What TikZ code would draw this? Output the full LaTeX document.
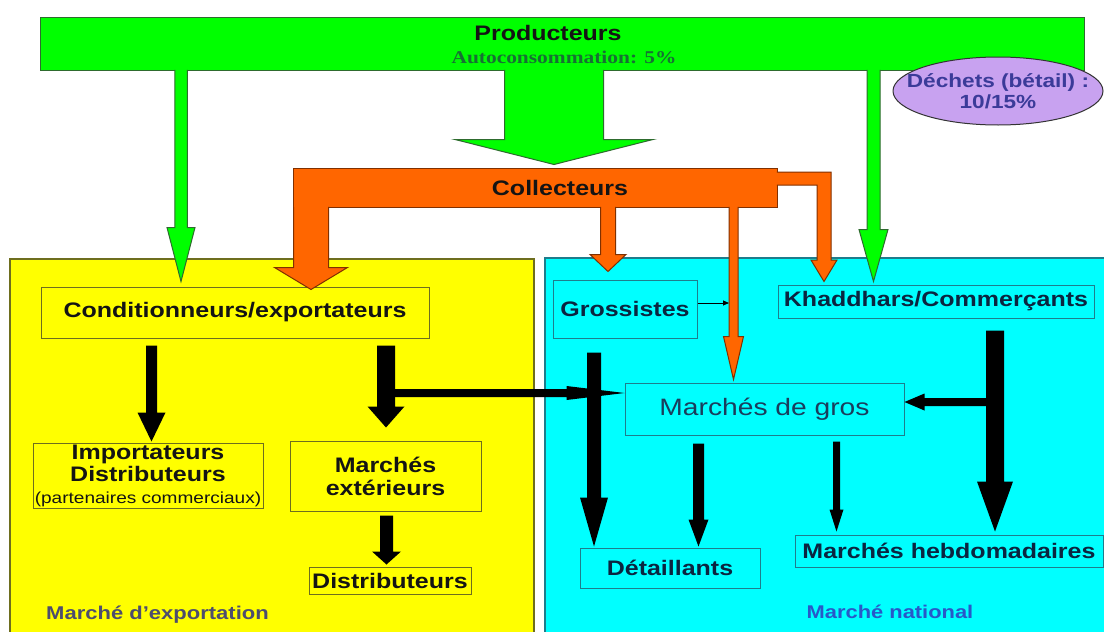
\documentclass[tikz,border=0pt]{standalone}
\usepackage{fontspec}
\usepackage{graphicx}
\setmainfont{Liberation Sans}
\newfontfamily\serifbold{Liberation Serif}[UprightFont={* Bold}]
\usetikzlibrary{shapes.geometric,calc,arrows.meta}

\definecolor{greenfill}{HTML}{00FF00}
\definecolor{greenedge}{HTML}{2E6B2E}
\definecolor{orangefill}{HTML}{FF6600}
\definecolor{orangeedge}{HTML}{803000}
\definecolor{yfill}{HTML}{FFFF00}
\definecolor{yedge}{HTML}{6E6E1E}
\definecolor{cfill}{HTML}{00FFFF}
\definecolor{cedge}{HTML}{1E7D8C}
\definecolor{lavender}{HTML}{C8A2F0}
\definecolor{dechcol}{HTML}{3B3B99}
\definecolor{autocol}{HTML}{177034}
\definecolor{ytext}{HTML}{141414}
\definecolor{ctext}{HTML}{0B2540}
\definecolor{grostext}{HTML}{1A3D5C}
\definecolor{expcol}{HTML}{4D4D6E}
\definecolor{natcol}{HTML}{2858C8}

% horizontally widened text
\newcommand\wide[1]{\scalebox{1.19}[1]{#1}}

% downward block arrow: style, from, tip, shaft width, head width, head length
\newcommand\vflow[6]{%
  \path[#1] let \p1=#2, \p2=#3 in
    ({\x1-#4/2},{\y1}) -- ({\x1-#4/2},{\y2+#6}) -- ({\x1-#5/2},{\y2+#6}) -- ({\x1},{\y2})
    -- ({\x1+#5/2},{\y2+#6}) -- ({\x1+#4/2},{\y2+#6}) -- ({\x1+#4/2},{\y1});}

% horizontal block arrow: style, from, tip, shaft width, head width, head length
\newcommand\hflow[6]{%
  \path[#1] let \p1=#2, \p2=#3, \n1={ifthenelse(\x2>\x1,1,-1)} in
    ({\x1},{\y1-#4/2}) -- ({\x2-\n1*#6},{\y1-#4/2}) -- ({\x2-\n1*#6},{\y1-#5/2}) -- ({\x2},{\y1})
    -- ({\x2-\n1*#6},{\y1+#5/2}) -- ({\x2-\n1*#6},{\y1+#4/2}) -- ({\x1},{\y1+#4/2}) -- cycle;}

\tikzset{
  big/.style={font=\fontsize{21}{22}\selectfont\bfseries},
  ybox/.style={draw=yedge, fill=yfill, line width=1pt, inner sep=0pt, align=center, text=ytext, big},
  cbox/.style={draw=cedge, fill=cfill, line width=1pt, inner sep=0pt, align=center, text=ctext, big},
  greenbar/.style={draw=greenedge, fill=greenfill, line width=1pt, inner sep=0pt},
  orangebar/.style={draw=orangeedge, fill=orangefill, line width=1pt, inner sep=0pt},
  greenflow/.style={draw=greenedge, fill=greenfill, line width=1pt, line join=miter},
  orangeflow/.style={draw=orangeedge, fill=orangefill, line width=1pt, line join=miter},
  blackflow/.style={fill=black},
  txt/.style={inner sep=0pt},
}

\begin{document}
\begin{tikzpicture}[x=1pt,y=-1pt]
\useasboundingbox (0,0) rectangle (1104,632);
\fill[white] (0,0) rectangle (1104,632);

% market areas
\begin{scope}
  \clip (0,0) rectangle (1104,632);
  \filldraw[fill=yfill, draw=yedge, line width=1.2pt] (10,259) rectangle (534,650);
  \filldraw[fill=cfill, draw=cedge, line width=1.2pt] (545,258) rectangle (1120,650);
\end{scope}
\node[txt, anchor=west, font=\fontsize{18.5}{20}\selectfont\bfseries, text=expcol] (explbl) at (46,615) {\wide{Marché d’exportation}};
\node[txt, font=\fontsize{18.4}{20}\selectfont\bfseries, text=natcol] (natlbl) at (890,612) {\wide{Marché national}};

% producers and collectors
\node[greenbar, minimum width=1044pt, minimum height=53pt] (prod) at (562,43.5) {};
\node[orangebar, minimum width=484pt, minimum height=39pt] (coll) at (535,187.5) {};

% boxes of the export market
\node[ybox, minimum width=388pt, minimum height=51pt] (cond) at (235,312.5) {\wide{Conditionneurs/exportateurs}};
\node[ybox, minimum width=230pt, minimum height=65pt] (imp) at (148,475.5)
  {\wide{Importateurs}\\\wide{Distributeurs}\\{\fontsize{16}{17}\selectfont\mdseries\wide{(partenaires commerciaux)}}};
\node[ybox, minimum width=191pt, minimum height=70pt] (mext) at (385.5,476) {\wide{Marchés}\\[1pt]\wide{extérieurs}};
\node[ybox, minimum width=162pt, minimum height=27pt] (dist) at (390,580.5) {\wide{Distributeurs}};

% boxes of the national market
\node[cbox, minimum width=144pt, minimum height=58pt] (gross) at (625,309) {\wide{Grossistes}};
\node[cbox, minimum width=316pt, minimum height=33pt] (khad) at (936,301.5) {\wide{Khaddhars/Commerçants}};
\node[cbox, minimum width=279pt, minimum height=52pt, font=\fontsize{23.7}{26}\selectfont\mdseries, text=grostext] (mgros) at (764.5,409) {\wide{Marchés de gros}};
\node[cbox, minimum width=180pt, minimum height=40pt] (detail) at (670,568) {\wide{Détaillants}};
\node[cbox, minimum width=308pt, minimum height=32pt] (hebdo) at (949,551) {\wide{Marchés hebdomadaires}};

% green flows from the producers
\vflow{greenflow}{($(181,0 |- prod.south)+(0,-0.6)$)}{($(181,0 |- cond.north)+(0,-5)$)}{12.5pt}{28pt}{54pt}
\vflow{greenflow}{($(554,0 |- prod.south)+(0,-0.6)$)}{($(554,0 |- coll.north)+(0,-3)$)}{99pt}{198pt}{25pt}
\vflow{greenflow}{($(873.5,0 |- prod.south)+(0,-0.6)$)}{($(873.5,0 |- khad.north)+(0,-3)$)}{13pt}{29pt}{52pt}

% orange flows from the collectors
\vflow{orangeflow}{($(311,0 |- coll.south)+(0,-0.6)$)}{($(311,0 |- cond.north)+(0,3)$)}{35pt}{73pt}{22pt}
\vflow{orangeflow}{($(608,0 |- coll.south)+(0,-0.6)$)}{($(608,0 |- gross.north)+(0,-8)$)}{15pt}{36pt}{17pt}
\vflow{orangeflow}{($(733.5,0 |- coll.south)+(0,-0.6)$)}{($(733.5,0 |- mgros.north)+(0,-3)$)}{9pt}{20pt}{43pt}
\path[orangeflow] ($(coll.north east |- 0,172)+(-0.6,0)$) -- (831,172) -- (831,260) -- (837,260)
  -- ($(824,0 |- khad.north)+(0,-3)$) -- (811,260) -- (817,260) -- (817,185) -- ($(coll.north east |- 0,185)+(-0.6,0)$);

% waste share
\node[ellipse, draw=black!80, fill=lavender, line width=1pt, minimum width=210pt, minimum height=68pt,
  inner sep=0pt] (dech) at (998,91) {};
\node[txt, align=center, font=\fontsize{19}{21}\selectfont\bfseries, text=dechcol] (dechlbl) at (dech.center)
  {\wide{Déchets (bétail) :}\\\wide{10/15\%}};

% labels of the two bars
\node[txt, big, text=ytext] (prodlbl) at (548,33) {\wide{Producteurs}};
\node[txt, font=\serifbold\fontsize{18}{20}\selectfont, text=autocol] (autolbl) at (564,57) {\wide{Autoconsommation: 5\%}};
\node[txt, big, text=ytext] (colllbl) at (560,188) {\wide{Collecteurs}};

% black flows in the export market
\coordinate (xbr) at (386,393);
\vflow{blackflow}{($(151.5,0 |- cond.south)+(0,7)$)}{($(151.5,0 |- imp.north)+(0,-1)$)}{11pt}{28pt}{29pt}
\vflow{blackflow}{($(386,0 |- cond.south)+(0,7)$)}{($(386,0 |- mext.north)+(0,-13)$)}{18pt}{37pt}{21pt}
\vflow{blackflow}{($(386.5,0 |- mext.south)+(0,4)$)}{($(386.5,0 |- dist.north)+(0,-2)$)}{13pt}{29pt}{13pt}
\hflow{blackflow}{(xbr)}{(mgros.west |- xbr)}{8pt}{14pt}{58pt}

% black flows in the national market
\coordinate (kbr) at (995,402);
\vflow{blackflow}{($(594,0 |- gross.south)+(0,14)$)}{($(594,0 |- detail.north)+(0,-1)$)}{14pt}{28pt}{49pt}
\vflow{blackflow}{($(698.5,0 |- mgros.south)+(0,8)$)}{($(698.5,0 |- detail.north)+(0,-1)$)}{11pt}{20pt}{27pt}
\vflow{blackflow}{($(836.5,0 |- mgros.south)+(0,6)$)}{($(836.5,0 |- hebdo.north)+(0,-3)$)}{7pt}{14pt}{22pt}
\vflow{blackflow}{($(995,0 |- khad.south)+(0,12)$)}{($(995,0 |- hebdo.north)+(0,-3)$)}{18pt}{36pt}{50pt}
\hflow{blackflow}{(kbr)}{(mgros.east |- kbr)}{8pt}{17pt}{20pt}
\draw[black, line width=0.8pt, -{Triangle[length=6pt,width=5pt]}] (gross.east |- 0,303) -- (729,303);
\end{tikzpicture}
\end{document}
